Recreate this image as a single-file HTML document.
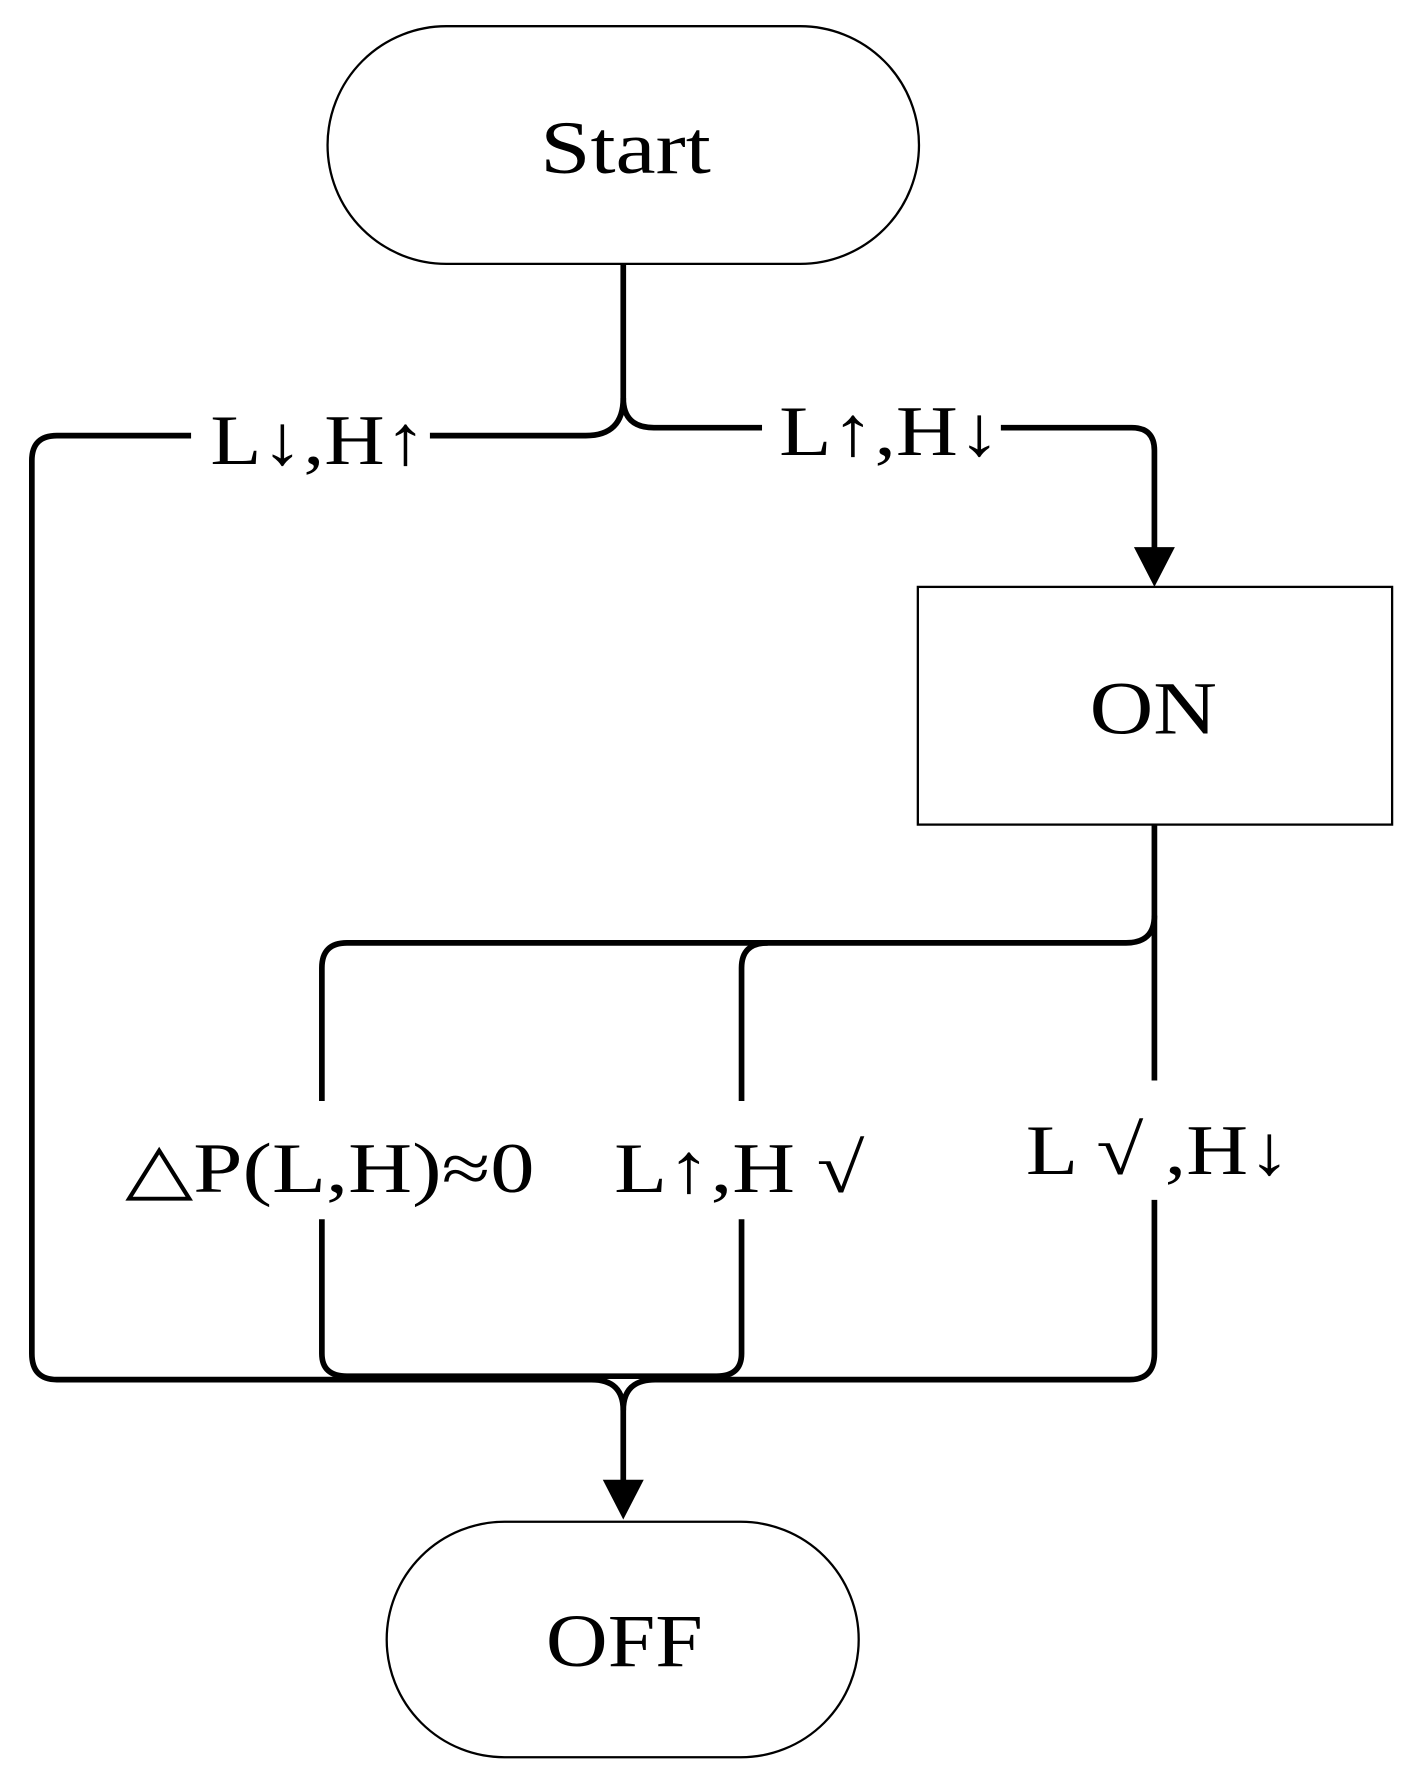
<!DOCTYPE html>
<html><head><meta charset="utf-8"><style>
html,body{margin:0;padding:0;background:#fff;}
svg{display:block;}
text{font-family:"Liberation Serif",serif;fill:#000;}
</style></head><body>
<svg width="1416" height="1780" viewBox="0 0 1245 1565" xmlns="http://www.w3.org/2000/svg">
<g fill="none" stroke="#000">
<rect x="288" y="23" width="520" height="209" rx="104.5" stroke-width="2"/>
<rect x="807" y="516" width="417" height="209" stroke-width="2"/>
<rect x="340" y="1338" width="415" height="207" rx="103.5" stroke-width="2"/>
<g stroke-width="5" stroke-linecap="butt">
<path d="M548 232 V350 Q548 383 515 383 H378"/>
<path d="M168 383 H50 Q28 383 28 405 V1190 Q28 1213 50 1213 H520 Q548 1213 548 1240 V1305"/>
<path d="M548 350 Q548 376 575 376 H670"/>
<path d="M880 376 H995 Q1015 376 1015 396 V485"/>
<path d="M1015 725 V950"/>
<path d="M1015 805 Q1015 829 990 829 H305 Q283 829 283 851 V968"/>
<path d="M675 829 Q652 829 652 851 V968"/>
<path d="M283 1072 V1190 Q283 1210 305 1210 H630 Q652 1210 652 1190 V1072"/>
<path d="M1015 1055 V1190 Q1015 1213 993 1213 H576 Q548 1213 548 1240"/>
</g>
</g>
<polygon points="997,481 1033,481 1015,516" fill="#000"/>
<polygon points="530,1301 566,1301 548,1336" fill="#000"/>
<text x="475" y="152" font-size="66" textLength="150" lengthAdjust="spacingAndGlyphs">Start</text>
<text x="958" y="645" font-size="66" textLength="112" lengthAdjust="spacingAndGlyphs">ON</text>
<text x="480" y="1465" font-size="66" textLength="138" lengthAdjust="spacingAndGlyphs">OFF</text>
<text x="185" y="408" font-size="62" textLength="190" lengthAdjust="spacingAndGlyphs">L↓,H↑</text>
<text x="685" y="400" font-size="62" textLength="195" lengthAdjust="spacingAndGlyphs">L↑,H↓</text>
<text x="110" y="1048" font-size="62" textLength="360" lengthAdjust="spacingAndGlyphs">△P(L,H)≈0</text>
<text x="540" y="1048" font-size="62" textLength="220" lengthAdjust="spacingAndGlyphs">L↑,H √</text>
<text x="902" y="1032" font-size="62" textLength="233" lengthAdjust="spacingAndGlyphs">L √ ,H↓</text>
</svg>
</body></html>
